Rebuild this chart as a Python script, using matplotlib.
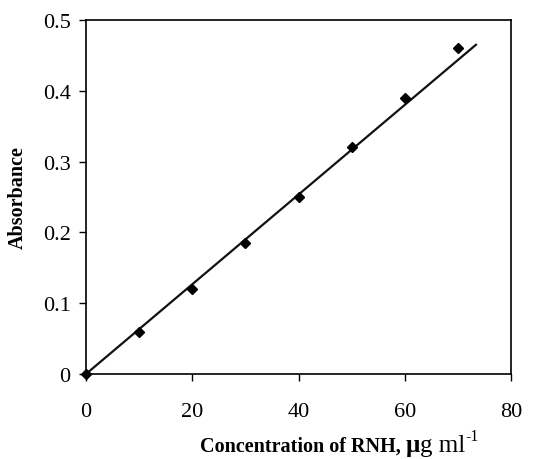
import matplotlib
matplotlib.use("Agg")
import matplotlib.pyplot as plt

conc = [0, 10, 20, 30, 40, 50, 60, 70]
absorb = [0.0, 0.06, 0.12, 0.185, 0.25, 0.32, 0.39, 0.46]
fit_x = [0, 73.4]
fit_y = [0, 0.465]
xticks = [0, 20, 40, 60, 80]
yticks = [0, 0.1, 0.2, 0.3, 0.4, 0.5]
ytick_labels = ["0", "0.1", "0.2", "0.3", "0.4", "0.5"]

plt.rcParams['font.family'] = ['Liberation Serif', 'DejaVu Serif']

fig = plt.figure(figsize=(5.34, 4.60), dpi=100)
ax = fig.add_axes([86/534, 1-375/460, (511-86)/534, (375-21)/460])

ax.plot(fit_x, fit_y, color='#111111', lw=1.6, zorder=2, clip_on=False)
ax.plot(conc, absorb, linestyle='none', marker='D', ms=5.5, color='black',
        zorder=3, clip_on=False)

ax.set_xlim(0, 80)
ax.set_ylim(0, 0.5)
ax.set_xticks(xticks)
ax.set_xticklabels([str(v) for v in xticks])
ax.set_yticks(yticks)
ax.set_yticklabels(ytick_labels)
ax.tick_params(axis='both', direction='out', length=5, width=1.0, labelsize=16,
               top=False, right=False)
ax.tick_params(axis='x', pad=15)
ax.tick_params(axis='y', pad=6)
for s in ax.spines.values():
    s.set_linewidth(1.2)

ax.set_ylabel('Absorbance', fontsize=14.5, fontweight='bold', labelpad=11)

t1 = fig.text(200/534, 1-452/460, 'Concentration of RNH, ', fontsize=14.5,
              fontweight='bold', ha='left', va='baseline')
t2 = ax.annotate('\u03bc', xycoords=t1, xy=(1, 0), va='bottom', ha='left',
                 fontsize=18, fontweight='bold', annotation_clip=False)
t3 = ax.annotate('g ml', xycoords=t2, xy=(1, 0), va='bottom', ha='left',
                 fontsize=18, annotation_clip=False)
t4 = ax.annotate('-1', xycoords=t3, xy=(1, 0.55), va='bottom', ha='left',
                 fontsize=11.5, annotation_clip=False)

fig.savefig('out.png', dpi=100)
